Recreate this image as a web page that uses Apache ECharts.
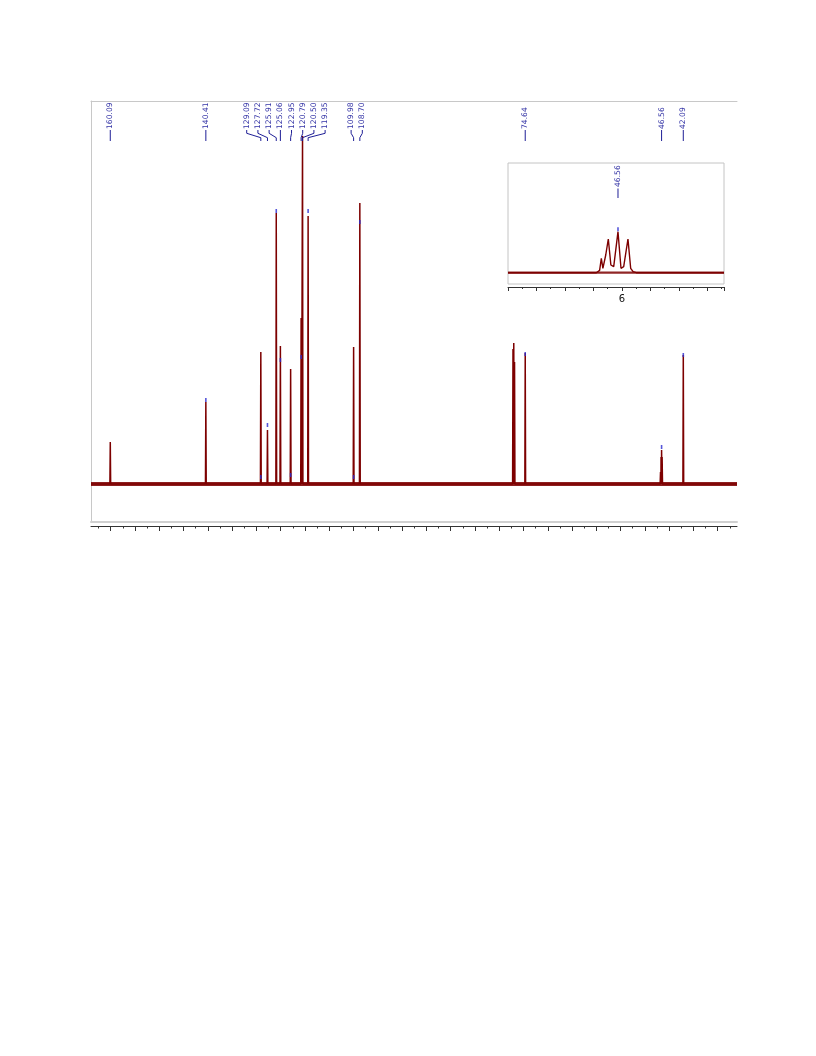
<!DOCTYPE html>
<html><head><meta charset="utf-8">
<script src="https://cdn.jsdelivr.net/npm/echarts@6/dist/echarts.min.js"></script>
<style>html,body{margin:0;padding:0;background:#fff}#c{width:816px;height:1056px}</style>
</head><body><div id="c"></div>
<script>
// ---- data ----
const peakPpm    = [160.09,140.41,129.09,127.72,125.91,125.06,122.95,120.79,120.50,119.35,109.98,108.70,77.16,77.00,76.84,74.64,46.78,46.67,46.56,46.45,42.09];
const peakHeight = [42,82,132,54,271,138,115,166,348,268,137,281,135,141,122,131,12,27,34,27,129];
const labelPpm   = [160.09,140.41,129.09,127.72,125.91,125.06,122.95,120.79,120.50,119.35,109.98,108.70,74.64,46.56,42.09];
const pickPpm    = [140.41,129.09,127.72,125.91,125.06,122.95,120.79,119.35,109.98,108.70,74.64,46.56,42.09];
const pickHeight = [84,7,59,273,124,9,127,273,7,262,130,37,129];
// inset (expanded 46.56 multiplet)
const insetX = [2,5.10,5.215,5.275,5.33,5.43,5.52,5.61,5.71,5.86,5.965,6.06,6.21,6.305,6.39,6.5,9.58];
const insetY = [0,0,2.3,14.4,4.4,17.7,33.7,7.7,6,41,4.4,6,33.7,4.4,1,0,0];
const insetLabelPos = [5.86];
const insetLabelText = ['46.56'];
const insetPickHeight = [43.5];
const insetTickLabels = ['6'];

// ---- axis ranges ----
const X_MIN = 31.03, X_MAX = 164.06;
const HW = 0.08;

const majorTicks = [], minorTicks = [];
for (let v = 35; v <= 160; v += 5) majorTicks.push(v);
for (let v = 32.5; v <= 163; v += 5) minorTicks.push(v);

const order = peakPpm.map((p, i) => i).sort((a, b) => peakPpm[b] - peakPpm[a]);
const trace = [[X_MAX, 0]];
order.forEach(i => { trace.push([peakPpm[i] + HW, 0], [peakPpm[i], peakHeight[i]], [peakPpm[i] - HW, 0]); });
trace.push([X_MIN, 0]);

const RED = '#7d0000';
const chart = echarts.init(document.getElementById('c'), null, {renderer: 'canvas'});

const baseX = {type: 'value', inverse: true, min: X_MIN, max: X_MAX, gridIndex: 0,
  axisLabel: {show: false}, splitLine: {show: false}, axisTick: {show: false}};

const option = {
  animation: false,
  backgroundColor: '#fff',
  grid: [
    {left: 91, right: 79, top: 101, bottom: 534},
    {left: 508, top: 163, width: 216, height: 121, show: true, borderColor: '#c4c4c4', borderWidth: 1, backgroundColor: '#fff'}
  ],
  xAxis: [
    Object.assign({}, baseX, {position: 'bottom', axisLine: {show: true, onZero: false, lineStyle: {color: '#d0d0d0', width: 2}}}),
    Object.assign({}, baseX, {position: 'top', axisLine: {show: true, onZero: false, lineStyle: {color: '#c8c8c8', width: 1}}}),
    Object.assign({}, baseX, {position: 'bottom', offset: 4,
      axisLine: {show: true, onZero: false, lineStyle: {color: '#333', width: 1}},
      axisTick: {show: true, customValues: majorTicks, length: 5, lineStyle: {color: '#333'}}}),
    Object.assign({}, baseX, {position: 'bottom', offset: 4,
      axisLine: {show: false, onZero: false},
      axisTick: {show: true, customValues: minorTicks, length: 2.5, lineStyle: {color: '#333'}}}),
    {type: 'value', gridIndex: 1, min: 2, max: 9.58, interval: 1, position: 'bottom', offset: 3,
      axisLine: {show: true, onZero: false, lineStyle: {color: '#333', width: 1}},
      axisTick: {show: true, length: 4, lineStyle: {color: '#333'}},
      minorTick: {show: true, splitNumber: 2, length: 2, lineStyle: {color: '#333'}},
      axisLabel: {show: true, margin: 7, fontSize: 10, color: '#111', fontFamily: 'DejaVu Sans',
        formatter: v => insetTickLabels.indexOf(String(v)) >= 0 ? String(v) : ''},
      splitLine: {show: false}}
  ],
  yAxis: [
    {type: 'value', gridIndex: 0, min: -38, max: 383,
      axisLine: {show: true, onZero: false, lineStyle: {color: '#c8c8c8', width: 1}},
      axisTick: {show: false}, axisLabel: {show: false}, splitLine: {show: false}},
    {type: 'value', gridIndex: 1, min: -11.3, max: 109.7, show: false, splitLine: {show: false}}
  ],
  series: [
    {type: 'line', xAxisIndex: 0, yAxisIndex: 0, data: [[X_MAX, 0], [X_MIN, 0]], showSymbol: false,
      lineStyle: {color: RED, width: 4, opacity: 0.88}, z: 2, silent: true},
    {type: 'line', xAxisIndex: 0, yAxisIndex: 0, data: trace, showSymbol: false,
      lineStyle: {color: RED, width: 1.5}, z: 3, silent: true},
    {type: 'scatter', xAxisIndex: 0, yAxisIndex: 0, data: pickPpm.map((p, i) => [p, pickHeight[i]]),
      symbol: 'rect', symbolSize: [1.6, 4], itemStyle: {color: '#2b2bd0'}, z: 4, silent: true},
    {type: 'line', xAxisIndex: 4, yAxisIndex: 1, data: [[2, 0], [9.58, 0]], showSymbol: false,
      lineStyle: {color: RED, width: 2.2, opacity: 0.85}, z: 2, silent: true},
    {type: 'line', xAxisIndex: 4, yAxisIndex: 1, data: insetX.map((x, i) => [x, insetY[i]]), showSymbol: false,
      lineStyle: {color: RED, width: 1.4}, z: 3, silent: true},
    {type: 'scatter', xAxisIndex: 4, yAxisIndex: 1, data: insetLabelPos.map((x, i) => [x, insetPickHeight[i]]),
      symbol: 'rect', symbolSize: [1.6, 4], itemStyle: {color: '#2b2bd0'}, z: 4, silent: true}
  ]
};
chart.setOption(option);

// ---- peak labels with spread-out connectors ----
const GAP = 11.2;
const pts = labelPpm.map(p => ({p: p, px: chart.convertToPixel({xAxisIndex: 0}, p)}));
pts.sort((a, b) => a.px - b.px);
let clusters = pts.map(pt => ({items: [pt]}));
function layout(c) {
  const n = c.items.length;
  const mean = c.items.reduce((s, t) => s + t.px, 0) / n;
  c.start = mean - (n - 1) * GAP / 2;
  c.end = c.start + (n - 1) * GAP;
}
clusters.forEach(layout);
let merged = true;
while (merged) {
  merged = false;
  for (let i = 0; i < clusters.length - 1; i++) {
    if (clusters[i].end + GAP > clusters[i + 1].start + 0.01) {
      clusters[i].items = clusters[i].items.concat(clusters[i + 1].items);
      clusters.splice(i + 1, 1);
      layout(clusters[i]);
      merged = true;
      break;
    }
  }
}
clusters.forEach(c => c.items.forEach((t, k) => { t.lx = c.start + k * GAP; }));

const TXT = '#3434a6', LN = '#1e1e96';
const graphics = [];
function addLabel(text, lx, px, yText, y0, y1) {
  graphics.push({type: 'text', x: lx, y: yText, rotation: Math.PI / 2, z: 100,
    style: {text: text, fill: TXT, fontSize: 7.6, fontFamily: 'DejaVu Sans', align: 'left', verticalAlign: 'middle'}});
  let points;
  if (Math.abs(lx - px) < 0.6) points = [[px, y0], [px, y1]];
  else {
    const a = y0 + (y1 - y0) * 0.3, b = y0 + (y1 - y0) * 0.7;
    points = [[lx, y0], [lx, a], [px, b], [px, y1]];
  }
  graphics.push({type: 'polyline', z: 100, shape: {points: points}, style: {stroke: LN, lineWidth: 1, fill: null}});
}
pts.forEach(t => addLabel(t.p.toFixed(2), t.lx, t.px, 129, 130, 141));
insetLabelPos.forEach((x, i) => {
  const px = chart.convertToPixel({xAxisIndex: 4}, x);
  addLabel(insetLabelText[i], px, px, 187, 188.5, 198);
});
chart.setOption({graphic: graphics});
</script>
</body></html>
